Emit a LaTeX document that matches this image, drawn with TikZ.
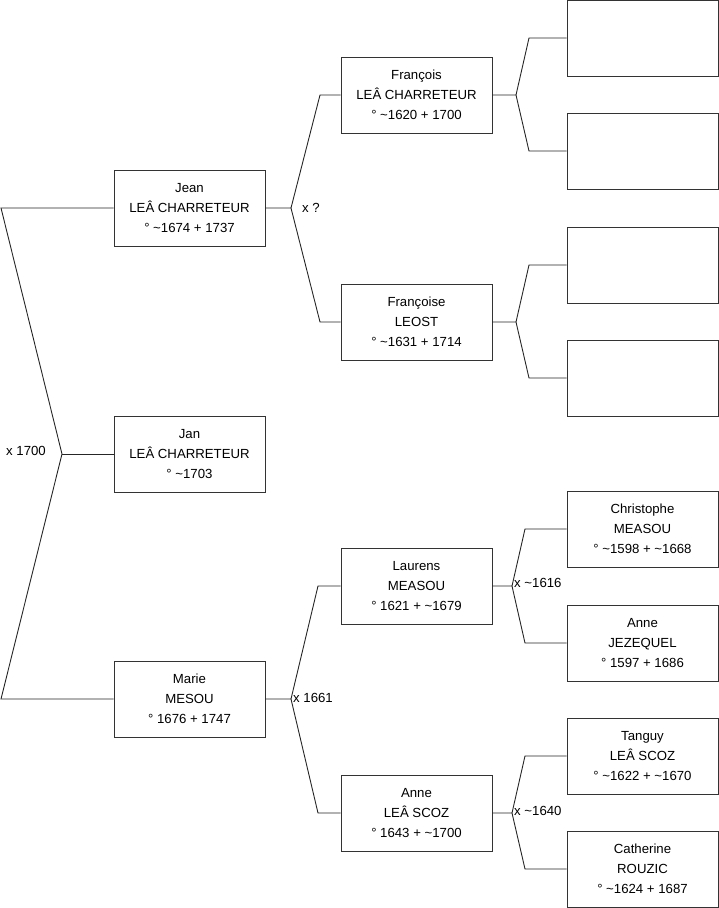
\documentclass[tikz,border=0pt]{standalone}
\usepackage{fontspec}
\setmainfont{Liberation Sans}
\usetikzlibrary{positioning}
\newcommand{\ca}{\textasciitilde}

\begin{document}
\begin{tikzpicture}[x=1pt,y=-1pt,
  person/.style={draw=black!80,line width=0.9pt,minimum width=151pt,minimum height=76pt,
    inner sep=0pt,align=center,font=\fontsize{13.2}{20}\selectfont},
  link/.style={draw=black!85,line width=0.9pt},
  union/.style={inner sep=1pt,font=\fontsize{13.2}{15}\selectfont}]
  \useasboundingbox (0,0) rectangle (719,908);

  % generation 1
  \node[person] (jean)  at (189.5,208) {Jean\\LEÂ CHARRETEUR\\° \ca1674 + 1737};
  \node[person] (jan)   at (189.5,454) {Jan\\LEÂ CHARRETEUR\\° \ca1703};
  \node[person] (marie) at (189.5,699) {Marie\\MESOU\\° 1676 + 1747};

  % generation 2
  \node[person] (francois)  at (416.5,95)  {François\\LEÂ CHARRETEUR\\° \ca1620 + 1700};
  \node[person] (francoise) at (416.5,322) {Françoise\\LEOST\\° \ca1631 + 1714};
  \node[person] (laurens)   at (416.5,586) {Laurens\\MEASOU\\° 1621 + \ca1679};
  \node[person] (anne)      at (416.5,813) {Anne\\LEÂ SCOZ\\° 1643 + \ca1700};

  % generation 3
  \node[person] (e1) at (642.5,38)  {};
  \node[person] (e2) at (642.5,151) {};
  \node[person] (e3) at (642.5,265) {};
  \node[person] (e4) at (642.5,378) {};
  \node[person] (christophe) at (642.5,529) {Christophe\\MEASOU\\° \ca1598 + \ca1668};
  \node[person] (anneJ)      at (642.5,643) {Anne\\JEZEQUEL\\° 1597 + 1686};
  \node[person] (tanguy)     at (642.5,756) {Tanguy\\LEÂ SCOZ\\° \ca1622 + \ca1670};
  \node[person] (catherine)  at (642.5,869) {Catherine\\ROUZIC\\° \ca1624 + 1687};

  % fork points
  \coordinate (r0) at (62,454);
  \coordinate (r1) at (1,208);
  \coordinate (r2) at (1,699);
  \coordinate (p0) at (291,208);
  \coordinate (m0) at (291,699);
  \coordinate (f0) at (516,95);
  \coordinate (s0) at (516,322);
  \coordinate (l0) at (512,586);
  \coordinate (a0) at (512,813);

  % root family
  \draw[link] (jean.west) -- (r1) -- (r0) -- (r2) -- (marie.west);
  \draw[link] (r0) -- (jan.west);
  \node[union,anchor=east] (u1) at (47,451) {x 1700};

  % parents of Jean
  \draw[link] (jean.east) -- (p0) -- (320,95) -- (francois.west);
  \draw[link] (p0) -- (320,322) -- (francoise.west);
  \node[union,anchor=west] (u2) at (301,208) {x ?};

  % parents of Marie
  \draw[link] (marie.east) -- (m0) -- (318,586) -- (laurens.west);
  \draw[link] (m0) -- (318,813) -- (anne.west);
  \node[union,anchor=west] (u3) at (292,698) {x 1661};

  % grand-parents
  \draw[link] (francois.east) -- (f0) -- (529,38) -- (e1.west);
  \draw[link] (f0) -- (529,151) -- (e2.west);
  \draw[link] (francoise.east) -- (s0) -- (529,265) -- (e3.west);
  \draw[link] (s0) -- (529,378) -- (e4.west);
  \draw[link] (laurens.east) -- (l0) -- (525,529) -- (christophe.west);
  \draw[link] (l0) -- (525,643) -- (anneJ.west);
  \node[union,anchor=west] (u4) at (513,583) {x \ca1616};
  \draw[link] (anne.east) -- (a0) -- (525,756) -- (tanguy.west);
  \draw[link] (a0) -- (525,869) -- (catherine.west);
  \node[union,anchor=west] (u5) at (513,811) {x \ca1640};
\end{tikzpicture}
\end{document}
